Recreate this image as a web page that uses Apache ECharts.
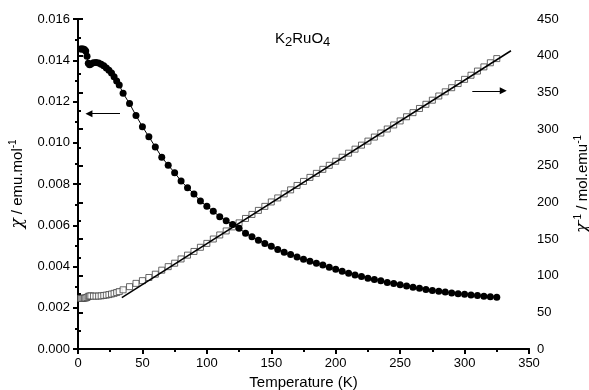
<!DOCTYPE html>
<html>
<head>
<meta charset="utf-8">
<script src="https://cdn.jsdelivr.net/npm/echarts@6/dist/echarts.min.js"></script>
<style>
  html, body { margin: 0; padding: 0; background: #fff; }
  #chart { width: 589px; height: 390px; }
</style>
</head>
<body>
<div id="chart"></div>
<script>
// temperature (K) of each measured point
const temps = [2, 3, 4, 5, 6, 7, 8, 9, 10, 12, 14, 16, 18, 20, 22, 24, 26, 28, 30, 32,
  35, 40, 45, 50, 55, 60, 65, 70, 75, 80, 85, 90, 95, 100, 105, 110, 115, 120, 125, 130,
  135, 140, 145, 150, 155, 160, 165, 170, 175, 180, 185, 190, 195, 200, 205, 210, 215, 220,
  225, 230, 235, 240, 245, 250, 255, 260, 265, 270, 275, 280, 285, 290, 295, 300, 305, 310,
  315, 320, 325];

// chi (emu/mol), filled circles, left axis
const chi = [0.01455, 0.01455, 0.01454, 0.01452, 0.01445, 0.01420, 0.01385, 0.01378, 0.01382,
  0.01388, 0.01389, 0.01387, 0.01381, 0.01373, 0.01363, 0.01352, 0.01338, 0.01320, 0.01300, 0.01280,
  0.01240, 0.01190, 0.01132, 0.01078, 0.01029, 0.00980, 0.00930, 0.00891, 0.00855, 0.00814,
  0.00782, 0.00752, 0.00717, 0.00692, 0.00668, 0.00641, 0.00622, 0.00604, 0.00586, 0.00561,
  0.00544, 0.00527, 0.00512, 0.00498, 0.00483, 0.00469, 0.00458, 0.00446, 0.00435, 0.00426,
  0.00416, 0.00407, 0.00396, 0.00387, 0.00377, 0.00367, 0.00359, 0.00351, 0.00343, 0.00337,
  0.00331, 0.00323, 0.00318, 0.00312, 0.00305, 0.00300, 0.00294, 0.00289, 0.00284, 0.00280,
  0.00276, 0.00272, 0.00268, 0.00265, 0.00262, 0.00259, 0.00256, 0.00253, 0.00251];

// 1/chi (mol/emu), open squares, right axis
const invChi = [69.0, 69.0, 69.2, 69.4, 69.6, 70.3, 71.8, 72.3, 72.3, 72.1, 72.1, 72.2, 72.5,
  73.0, 73.5, 74.2, 75.0, 75.9, 77.0, 78.3,
  80.7, 85.0, 89.5, 93.2, 97.5, 102.0, 107.5, 112.3, 117.0, 122.8, 128.0, 133.0, 138.7, 144.0,
  150.0, 155.5, 161.0, 166.5, 172.0, 178.0, 183.5, 189.0, 194.5, 200.5, 206.0, 211.5, 217.0,
  223.0, 228.5, 234.0, 239.5, 245.0, 250.5, 256.0, 261.5, 267.0, 272.5, 278.0, 283.5, 289.0,
  294.5, 300.0, 305.5, 311.0, 316.7, 322.3, 328.0, 333.7, 339.3, 345.0, 350.7, 356.3, 362.0,
  367.7, 373.3, 379.0, 384.7, 390.3, 396.0];

// Curie-Weiss fit line end points [T, 1/chi]
const fitLine = [[34, 70.2], [336, 406.7]];

// arrow annotations [T, value]
const leftArrow = [[32.6, 0.01141], [8.5, 0.01141]];
const rightArrow = [[306, 352], [330, 352]];

const chiData = temps.map((t, i) => [t, chi[i]]);
const invData = temps.map((t, i) => [t, invChi[i]]);

const font = "Liberation Sans";
const axisLine = { lineStyle: { color: "#000", width: 2 } };
const axisTick = { length: 5, lineStyle: { color: "#000", width: 2 } };
const minorTick = { show: true, splitNumber: 2, length: 3, lineStyle: { color: "#000", width: 2 } };
const axisLabel = { color: "#000", fontFamily: font, fontSize: 13 };

const chart = echarts.init(document.getElementById("chart"));
chart.setOption({
  animation: false,
  backgroundColor: "#fff",
  title: {
    text: "K{s|2}RuO{s|4}",
    left: 270,
    top: 23,
    textStyle: {
      color: "#000",
      fontFamily: font,
      fontSize: 15,
      fontWeight: "normal",
      rich: {
        s: { fontFamily: font, fontSize: 13, color: "#000", padding: [8, 0, 0, 0] },
      },
    },
  },
  grid: { left: 78, right: 60, top: 19, bottom: 41, containLabel: false, outerBoundsMode: "none" },
  xAxis: [
    {
      type: "value",
      min: 0,
      max: 350,
      interval: 50,
      name: "Temperature (K)",
      nameLocation: "middle",
      nameGap: 26,
      nameTextStyle: { color: "#000", fontFamily: font, fontSize: 15 },
      axisLine: axisLine,
      axisTick: axisTick,
      minorTick: minorTick,
      axisLabel: axisLabel,
      splitLine: { show: false },
    },
    {
      type: "value",
      position: "top",
      min: 0,
      max: 350,
      axisLine: axisLine,
      axisTick: { show: false },
      axisLabel: { show: false },
      splitLine: { show: false },
    },
  ],
  yAxis: [
    {
      type: "value",
      min: 0,
      max: 0.016,
      interval: 0.002,
      name: "{c|χ} / emu.mol{sup|-1}",
      nameLocation: "middle",
      nameRotate: 90,
      nameGap: 50,
      nameTextStyle: {
        color: "#000",
        fontFamily: font,
        fontSize: 15,
        rich: {
          c: { fontFamily: "DejaVu Serif", fontSize: 17, color: "#000", fontStyle: "italic" },
          sup: { fontFamily: font, fontSize: 10, color: "#000", padding: [0, 0, 9, 0] },
        },
      },
      axisLine: { show: true, lineStyle: { color: "#000", width: 2 } },
      axisTick: axisTick,
      minorTick: minorTick,
      axisLabel: Object.assign({}, axisLabel, { formatter: (v) => v.toFixed(3) }),
      splitLine: { show: false },
    },
    {
      type: "value",
      min: 0,
      max: 450,
      interval: 50,
      position: "right",
      name: "{c|χ}{sup|-1} / mol.emu{sup|-1}",
      nameLocation: "middle",
      nameRotate: 90,
      nameGap: 44,
      nameTextStyle: {
        color: "#000",
        fontFamily: font,
        fontSize: 15,
        rich: {
          c: { fontFamily: "DejaVu Serif", fontSize: 17, color: "#000", fontStyle: "italic" },
          sup: { fontFamily: font, fontSize: 10, color: "#000", padding: [0, 0, 9, 0] },
        },
      },
      axisLine: { show: true, lineStyle: { color: "#000", width: 2 } },
      axisTick: axisTick,
      minorTick: minorTick,
      axisLabel: axisLabel,
      splitLine: { show: false },
    },
  ],
  series: [
    {
      name: "inv",
      type: "scatter",
      yAxisIndex: 1,
      data: invData,
      symbol: "rect",
      symbolSize: 6,
      itemStyle: { color: "#fff", borderColor: "#444", borderWidth: 1 },
      z: 2,
      markLine: {
        silent: true,
        symbol: ["none", "triangle"],
        symbolSize: 7,
        label: { show: false },
        lineStyle: { color: "#000", width: 1, type: "solid" },
        data: [[{ coord: rightArrow[0] }, { coord: rightArrow[1] }]],
      },
    },
    {
      name: "fit",
      type: "line",
      yAxisIndex: 1,
      data: fitLine,
      showSymbol: false,
      lineStyle: { color: "#000", width: 1.5 },
      z: 3,
    },
    {
      name: "chi",
      type: "line",
      yAxisIndex: 0,
      data: chiData,
      symbol: "circle",
      symbolSize: 7,
      showAllSymbol: true,
      itemStyle: { color: "#000" },
      lineStyle: { color: "#000", width: 1 },
      z: 4,
      markLine: {
        silent: true,
        symbol: ["none", "triangle"],
        symbolSize: 7,
        label: { show: false },
        lineStyle: { color: "#000", width: 1, type: "solid" },
        data: [[{ coord: leftArrow[0] }, { coord: leftArrow[1] }]],
      },
    },
  ],
});
</script>
</body>
</html>
